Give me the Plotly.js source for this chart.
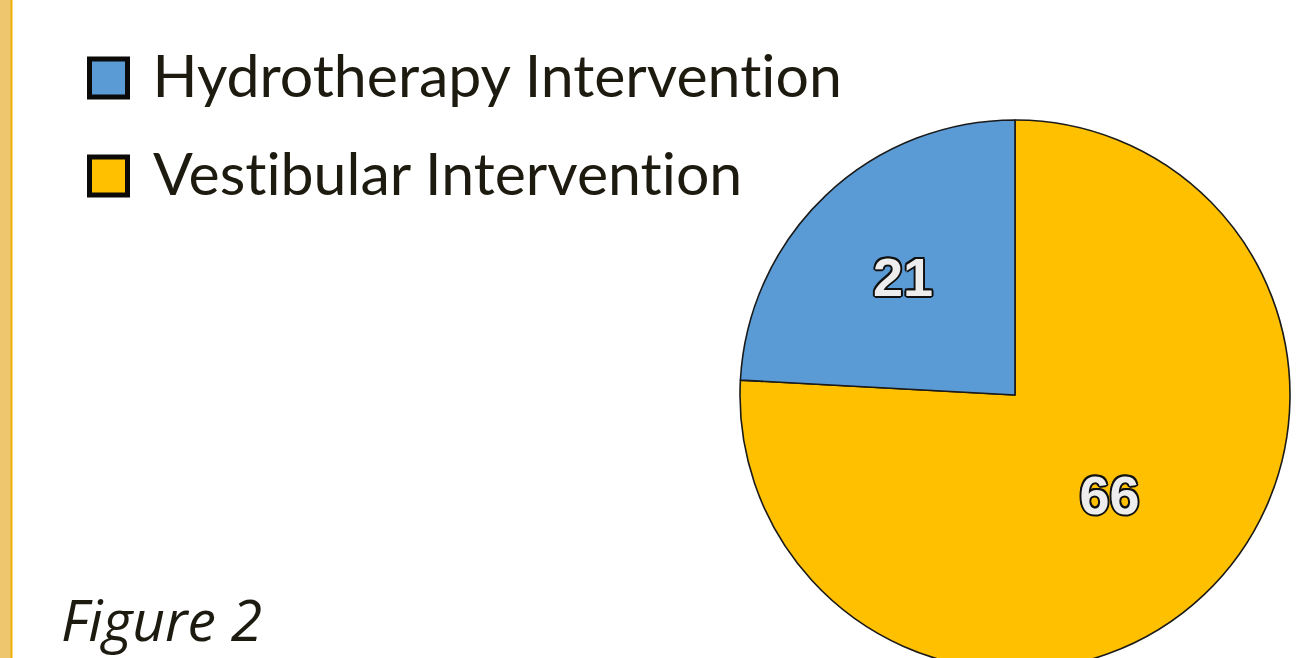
<!DOCTYPE html>
<html>
<head>
<meta charset="utf-8">
<script src="https://cdn.plot.ly/plotly-3.0.1.min.js"></script>
<style>
  html, body { margin: 0; padding: 0; width: 1308px; height: 658px; overflow: hidden; background: #fff; }
  #chart { width: 1308px; height: 700px; }
  #chart text, #chart tspan { font-variant-ligatures: none !important; font-feature-settings: "liga" 0, "clig" 0 !important; }
</style>
</head>
<body>
<div id="chart"></div>
<script>
// ---- data ----
const categories = ["Hydrotherapy Intervention", "Vestibular Intervention"];
const values = [21, 66];
const colors = ["#5B9BD5", "#FFC000"];
const figureLabel = "Figure 2";

// ---- layout helpers (figure is 1308 x 700, cropped to 658 by the page) ----
const W = 1308, H = 700;
const px = x => x / W;
const py = y => 1 - y / H;

const textColor = "#1d1a10";

// Plotly lays counterclockwise slices so that the first one ends at 12 o'clock;
// feed the slices in reverse so the first category sweeps left from 12 o'clock.
const pieTrace = {
  type: "pie",
  labels: categories.slice().reverse(),
  values: values.slice().reverse(),
  sort: false,
  direction: "counterclockwise",
  rotation: 0,
  marker: { colors: colors.slice().reverse(), line: { color: "#1a1a1a", width: 1.6 } },
  textinfo: "value",
  textposition: "inside",
  insidetextorientation: "horizontal",
  textfont: {
    family: "Liberation Sans, Arial, sans-serif",
    size: 54,
    weight: "bold",
    color: "#ededed",
    shadow: "2px 0 0 #111, -2px 0 0 #111, 0 2px 0 #111, 0 -2px 0 #111, 1.5px 1.5px 0 #111, -1.5px -1.5px 0 #111, 1.5px -1.5px 0 #111, -1.5px 1.5px 0 #111"
  },
  hoverinfo: "label+value",
  showlegend: false,
  domain: { x: [px(740), px(1290)], y: [py(670), py(120)] }
};

// legend built from the data arrays
const legendRows = [78, 176];
const shapes = [
  // left decorative border
  { type: "rect", xref: "paper", yref: "paper", x0: 0, x1: px(11), y0: 0, y1: 1,
    fillcolor: "#EDC66E", line: { width: 0 }, layer: "below" },
  { type: "line", xref: "paper", yref: "paper", x0: px(11.5), x1: px(11.5), y0: 0, y1: 1,
    line: { color: "#EFB20A", width: 2 } }
];
const annotations = [];
categories.forEach((c, i) => {
  const cy = legendRows[i];
  shapes.push({
    type: "rect", xref: "paper", yref: "paper",
    x0: px(89.5), x1: px(127.5), y0: py(cy - 19), y1: py(cy + 19),
    fillcolor: colors[i], line: { color: "#0b0a08", width: 5 }
  });
  annotations.push({
    xref: "paper", yref: "paper", x: px(150), y: py(cy - 3),
    xanchor: "left", yanchor: "middle", showarrow: false,
    text: c,
    font: { family: "Lato, sans-serif", size: 59, color: textColor }
  });
});
annotations.push({
  xref: "paper", yref: "paper", x: px(59), y: py(619),
  xanchor: "left", yanchor: "middle", showarrow: false,
  text: figureLabel,
  font: { family: "Open Sans, sans-serif", size: 57, style: "italic", color: textColor }
});

const layout = {
  width: W, height: H,
  margin: { l: 0, r: 0, t: 0, b: 0, pad: 0 },
  paper_bgcolor: "#ffffff",
  plot_bgcolor: "#ffffff",
  showlegend: false,
  shapes: shapes,
  annotations: annotations
};

Plotly.newPlot("chart", [pieTrace], layout, { displayModeBar: false, staticPlot: false });
</script>
</body>
</html>
